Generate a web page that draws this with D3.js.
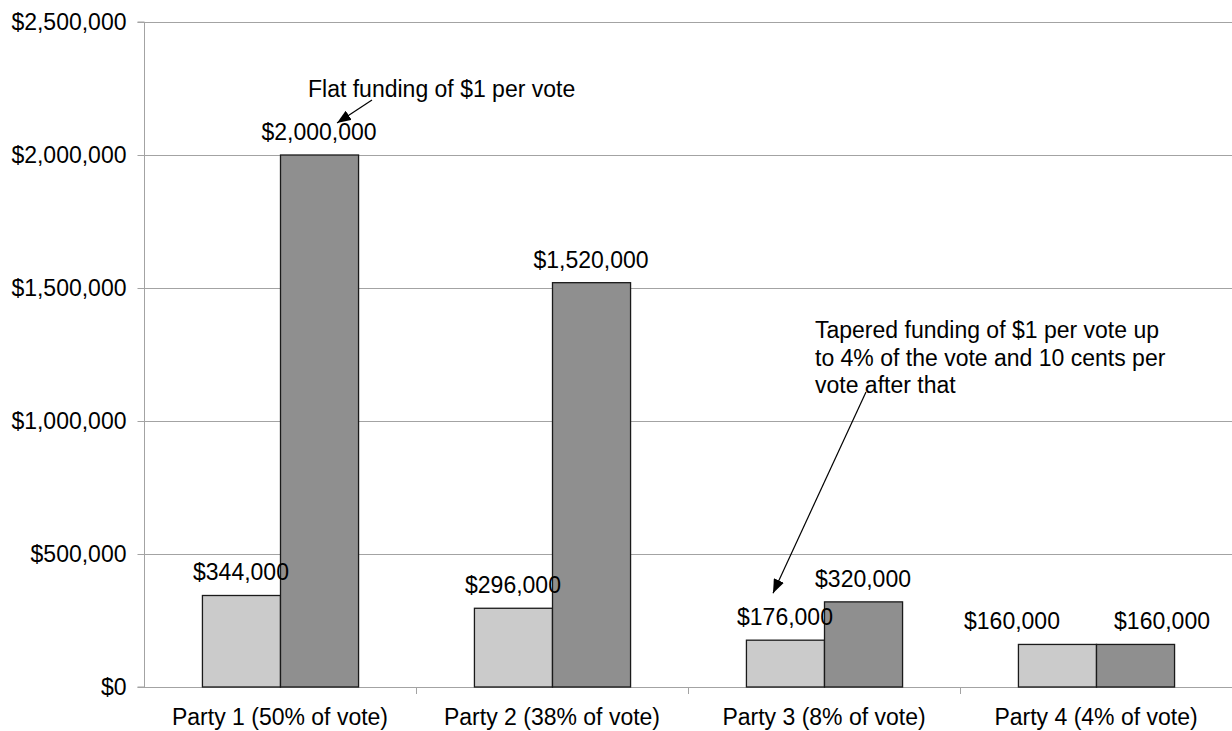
<!DOCTYPE html>
<html>
<head>
<meta charset="utf-8">
<script src="https://cdn.jsdelivr.net/npm/d3@7"></script>
<style>
  html, body { margin: 0; padding: 0; background: #fff; }
  svg { display: block; }
  text { font-family: "Liberation Sans", Arial, sans-serif; fill: #000; }
</style>
</head>
<body>
<svg id="chart" width="1232" height="731"></svg>
<script>
// ---- data ----
const categories = ["Party 1 (50% of vote)", "Party 2 (38% of vote)", "Party 3 (8% of vote)", "Party 4 (4% of vote)"];
const seriesNames = ["Tapered funding", "Flat funding"];
const taperedValues = [344000, 296000, 176000, 160000];
const flatValues = [2000000, 1520000, 320000, 160000];
const yTickValues = [0, 500000, 1000000, 1500000, 2000000, 2500000];
const annotationFlat = ["Flat funding of $1 per vote"];
const annotationTapered = ["Tapered funding of $1 per vote up", "to 4% of the vote and 10 cents per", "vote after that"];

// ---- layout ----
const svg = d3.select("#chart");
const plotL = 144, plotR = 1232, plotT = 22, plotB = 687;
const fontSize = 23;
const colors = ["#cbcbcb", "#8f8f8f"];

const x = d3.scaleBand().domain(categories).range([plotL, plotR]).paddingInner(0).paddingOuter(0);
const bandW = x.bandwidth();
const groupW = bandW * 0.574;
const xs = d3.scaleBand().domain(seriesNames).range([0, groupW]).padding(0);
const y = d3.scaleLinear().domain([0, 2500000]).range([plotB, plotT]);

const fmt = v => "$" + d3.format(",")(v);

// gridlines
svg.append("g").selectAll("line").data(yTickValues).join("line")
  .attr("x1", plotL).attr("x2", plotR)
  .attr("y1", d => Math.round(y(d)) + 0.5).attr("y2", d => Math.round(y(d)) + 0.5)
  .attr("stroke", "#a3a3a3").attr("stroke-width", 1);

// y axis
const yAxis = d3.axisLeft(y).tickValues(yTickValues).tickFormat(fmt).tickSize(7).tickPadding(11);
const gy = svg.append("g").attr("transform", `translate(${plotL + 0.5},0)`).call(yAxis);
gy.select(".domain").attr("stroke", "#a3a3a3").attr("d", `M-7,${plotT}H0V${plotB}H-7`);
gy.selectAll(".tick line").attr("stroke", "#a3a3a3");
gy.selectAll(".tick text").attr("font-size", fontSize).attr("font-family", "Liberation Sans, Arial, sans-serif").attr("fill", "#000");

// x axis
const xAxis = d3.axisBottom(x).tickSize(0).tickPadding(21);
const gx = svg.append("g").attr("transform", `translate(0,${plotB + 0.5})`).call(xAxis);
gx.select(".domain").remove();
gx.selectAll(".tick text").attr("font-size", fontSize).attr("font-family", "Liberation Sans, Arial, sans-serif").attr("fill", "#000");
// category boundary ticks
const boundaries = categories.slice(1).map(c => x(c));
svg.append("g").selectAll("line").data(boundaries).join("line")
  .attr("x1", d => Math.round(d) + 0.5).attr("x2", d => Math.round(d) + 0.5)
  .attr("y1", plotB).attr("y2", plotB + 7)
  .attr("stroke", "#a3a3a3");

// bars
const rows = categories.map((c, i) => ({ cat: c, i, vals: [taperedValues[i], flatValues[i]] }));
const groups = svg.append("g").selectAll("g").data(rows).join("g")
  .attr("transform", d => `translate(${x(d.cat) + (bandW - groupW) / 2},0)`);

groups.selectAll("rect").data(d => d.vals.map((v, k) => ({ v, k, s: seriesNames[k] }))).join("rect")
  .attr("x", d => xs(d.s) + 0.5)
  .attr("y", d => y(d.v))
  .attr("width", xs.bandwidth())
  .attr("height", d => plotB - y(d.v))
  .attr("fill", d => colors[d.k])
  .attr("stroke", "#1a1a1a").attr("stroke-width", 1.3);

// value labels (Party 4's labels are pushed apart to avoid overlapping)
const labelShift = { 3: [-45, 27] };
groups.each(function(d) {
  d3.select(this).selectAll("text.val").data(d.vals.map((v, k) => ({ v, k, s: seriesNames[k], i: d.i }))).join("text")
    .attr("class", "val")
    .attr("x", e => xs(e.s) + xs.bandwidth() / 2 + (labelShift[e.i] ? labelShift[e.i][e.k] : 0))
    .attr("y", e => y(e.v) - 15)
    .attr("text-anchor", "middle")
    .attr("font-size", fontSize)
    .text(e => fmt(e.v));
});

// arrow marker
svg.append("defs").append("marker")
  .attr("id", "arrow").attr("viewBox", "0 0 14 11").attr("refX", 14).attr("refY", 5.5)
  .attr("markerWidth", 14).attr("markerHeight", 11).attr("markerUnits", "userSpaceOnUse")
  .attr("orient", "auto")
  .append("path").attr("d", "M0,0L14,5.5L0,11Z").attr("fill", "#000");

// annotation 1: flat funding
const flatTopY = y(flatValues[0]);
svg.append("text").attr("x", 308).attr("y", 97).attr("font-size", fontSize).text(annotationFlat[0]);
svg.append("line")
  .attr("x1", 372).attr("y1", 100)
  .attr("x2", 337).attr("y2", flatTopY - 32)
  .attr("stroke", "#000").attr("stroke-width", 1.2).attr("marker-end", "url(#arrow)");

// annotation 2: tapered funding
const tap = svg.append("text").attr("font-size", fontSize);
annotationTapered.forEach((t, j) => {
  tap.append("tspan").attr("x", 815).attr("y", 338 + j * 27.7).text(t);
});
svg.append("line")
  .attr("x1", 866).attr("y1", 392)
  .attr("x2", 773).attr("y2", y(taperedValues[2]) - 47)
  .attr("stroke", "#000").attr("stroke-width", 1.2).attr("marker-end", "url(#arrow)");
</script>
</body>
</html>
